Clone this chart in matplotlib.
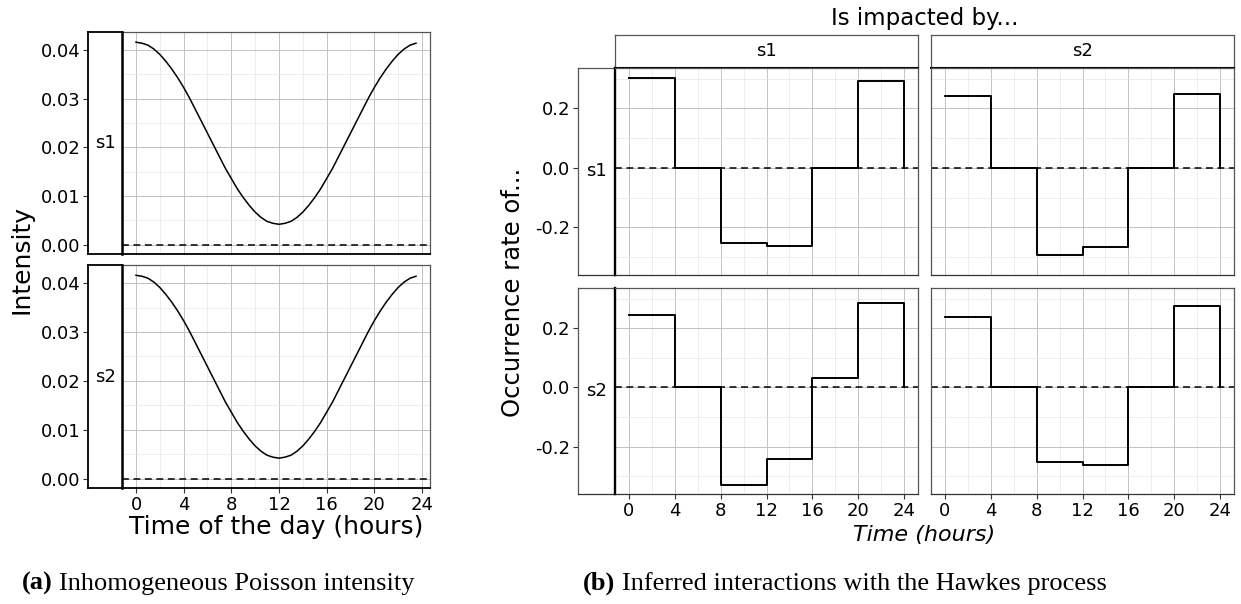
"""Inhomogeneous Poisson intensity and inferred Hawkes interactions."""

import matplotlib

matplotlib.use("Agg")
import matplotlib.pyplot as plt

W, H = 1241, 604

# (a) intensity, read every half hour
hours = [
    0.0, 0.5, 1.0, 1.5, 2.0, 2.5, 3.0, 3.5, 4.0, 4.5, 5.0, 5.5,
    6.0, 6.5, 7.0, 7.5, 8.0, 8.5, 9.0, 9.5, 10.0, 10.5, 11.0, 11.5,
    12.0, 12.5, 13.0, 13.5, 14.0, 14.5, 15.0, 15.5, 16.0, 16.5, 17.0, 17.5,
    18.0, 18.5, 19.0, 19.5, 20.0, 20.5, 21.0, 21.5, 22.0, 22.5, 23.0, 23.5,
]
intensity_s1 = [
    0.0416, 0.0414, 0.0410, 0.0402, 0.0391, 0.0377, 0.0361, 0.0343,
    0.0323, 0.0301, 0.0277, 0.0253, 0.0229, 0.0205, 0.0181, 0.0157,
    0.0136, 0.0115, 0.0097, 0.0081, 0.0067, 0.0056, 0.0048, 0.0044,
    0.0042, 0.0044, 0.0048, 0.0056, 0.0067, 0.0081, 0.0097, 0.0115,
    0.0136, 0.0157, 0.0181, 0.0205, 0.0229, 0.0253, 0.0277, 0.0301,
    0.0323, 0.0343, 0.0361, 0.0377, 0.0391, 0.0402, 0.0410, 0.0414,
]
intensity_s2 = [
    0.0416, 0.0414, 0.0410, 0.0402, 0.0391, 0.0377, 0.0361, 0.0343,
    0.0323, 0.0301, 0.0277, 0.0253, 0.0229, 0.0205, 0.0181, 0.0157,
    0.0136, 0.0115, 0.0097, 0.0081, 0.0067, 0.0056, 0.0048, 0.0044,
    0.0042, 0.0044, 0.0048, 0.0056, 0.0067, 0.0081, 0.0097, 0.0115,
    0.0136, 0.0157, 0.0181, 0.0205, 0.0229, 0.0253, 0.0277, 0.0301,
    0.0323, 0.0343, 0.0361, 0.0377, 0.0391, 0.0402, 0.0410, 0.0414,
]
intensity_ticks = [0.0, 0.01, 0.02, 0.03, 0.04]
intensity_labels = ["0.00", "0.01", "0.02", "0.03", "0.04"]

# (b) piecewise constant effects on 4-hour bins (last value closes the step)
step_hours = [0, 4, 8, 12, 16, 20, 24]
rate_s1_by_s1 = [0.303, 0.0, -0.253, -0.263, 0.0, 0.292, 0.0]
rate_s1_by_s2 = [0.243, 0.0, -0.294, -0.265, 0.0, 0.248, 0.0]
rate_s2_by_s1 = [0.245, 0.0, -0.328, -0.242, 0.031, 0.286, 0.0]
rate_s2_by_s2 = [0.237, 0.0, -0.253, -0.261, 0.0, 0.274, 0.0]
rate_ticks = [-0.2, 0.0, 0.2]
rate_labels = ["-0.2", "0.0", "0.2"]

hour_ticks = [0, 4, 8, 12, 16, 20, 24]
hour_minor = [2, 6, 10, 14, 18, 22]
sources = ["s1", "s2"]

BORDER = "#555555"
DASH = (0, (4.5, 3))


def rect(x0, y0, x1, y1):
    return [x0 / W, 1 - y1 / H, (x1 - x0) / W, (y1 - y0) / H]


def style_panel(ax, xlim, ylim, yticks, yminor):
    ax.set_xlim(*xlim)
    ax.set_ylim(*ylim)
    ax.set_xticks(hour_ticks)
    ax.set_xticks(hour_minor, minor=True)
    ax.set_yticks(yticks)
    ax.set_yticks(yminor, minor=True)
    ax.grid(which="major", color="#c2c2c2", linewidth=0.7)
    ax.grid(which="minor", color="#e6e6e6", linewidth=0.5)
    ax.set_axisbelow(True)
    ax.tick_params(which="both", length=0, labelleft=False, labelbottom=False)
    for s in ax.spines.values():
        s.set_color(BORDER)
        s.set_linewidth(0.9)


def show_hours(ax):
    ax.tick_params(axis="x", which="major", length=3.5, color="#333333",
                   labelbottom=True, labelsize=13, pad=2)


def make_strip(fig, box, label, color="black", lw=1.3):
    st = fig.add_axes(box)
    st.set_xticks([])
    st.set_yticks([])
    for s in st.spines.values():
        s.set_color(color)
        s.set_linewidth(lw)
    st.text(0.5, 0.5, label, transform=st.transAxes, ha="center",
            va="center", fontsize=13)
    return st


plt.rcParams["font.family"] = "DejaVu Sans"
plt.rcParams["axes.unicode_minus"] = False

fig = plt.figure(figsize=(W / 100, H / 100), dpi=100)

# ---- (a) ----
a_ylim = (-0.0019, 0.0437)
a_rows = [(32, 254), (265, 488)]
for i, (name, vals) in enumerate(zip(sources, [intensity_s1, intensity_s2])):
    y0, y1 = a_rows[i]
    ax = fig.add_axes(rect(122, y0, 430, y1))
    style_panel(ax, (-1.175, 24.675), a_ylim, intensity_ticks,
                [0.005, 0.015, 0.025, 0.035])
    ax.spines["bottom"].set_color("black")
    ax.spines["bottom"].set_linewidth(1.3)
    ax.axhline(0, color="black", linestyle=DASH, linewidth=1.1)
    ax.plot(hours, vals, color="black", linewidth=1.1)
    if i == 1:
        show_hours(ax)
    st = make_strip(fig, rect(88, y0, 122, y1), name)
    st.spines["right"].set_linewidth(1.8)
    st.set_ylim(*a_ylim)
    st.set_yticks(intensity_ticks, intensity_labels)
    st.tick_params(axis="y", length=3.5, color="#333333", labelsize=13, pad=2)

fig.text(22 / W, 1 - 260 / H, "Intensity", rotation=90, ha="center",
         va="center", fontsize=18)
fig.text(276 / W, 1 - 527 / H, "Time of the day (hours)", ha="center",
         va="center", fontsize=18)

# ---- (b) ----
b_ylim = (-0.360, 0.336)
b_rows = [(68, 275), (288, 494)]
b_cols = [(615, 918), (931, 1234)]
grid_vals = [[rate_s1_by_s1, rate_s1_by_s2], [rate_s2_by_s1, rate_s2_by_s2]]
for c, (cx0, cx1) in enumerate(b_cols):
    hd = make_strip(fig, rect(cx0, 35, cx1, 68), sources[c], color=BORDER,
                    lw=0.9)
    hd.spines["bottom"].set_color("black")
    hd.spines["bottom"].set_linewidth(1.5)
for r, (ry0, ry1) in enumerate(b_rows):
    st = make_strip(fig, rect(578, ry0, 615, ry1), sources[r], color=BORDER,
                    lw=0.9)
    st.spines["bottom"].set_color("#333333")
    st.set_ylim(*b_ylim)
    st.set_yticks(rate_ticks, rate_labels)
    st.tick_params(axis="y", length=3.5, color="#333333", labelsize=13, pad=2)
    for c, (cx0, cx1) in enumerate(b_cols):
        ax = fig.add_axes(rect(cx0, ry0, cx1, ry1))
        style_panel(ax, (-1.2, 25.2), b_ylim, rate_ticks,
                    [-0.3, -0.1, 0.1, 0.3])
        ax.spines["bottom"].set_color("#333333")
        if c == 0:
            ax.spines["left"].set_color("black")
            ax.spines["left"].set_linewidth(1.7)
        ax.axhline(0, color="black", linestyle=DASH, linewidth=1.1)
        ax.step(step_hours, grid_vals[r][c], where="post", color="black",
                linewidth=1.4)
        if r == 1:
            show_hours(ax)

fig.text(924.5 / W, 1 - 18 / H, "Is impacted by...", ha="center",
         va="center", fontsize=16.5)
fig.text(513 / W, 1 - 292 / H, "Occurrence rate of...", rotation=90,
         ha="center", va="center", fontsize=17.5)
fig.text(924.5 / W, 1 - 535 / H, "Time (hours)", ha="center", va="center",
         fontsize=16, style="italic")

# captions
serif = "Liberation Serif"
ta = fig.text(21.7 / W, 1 - 590 / H, "(a)", fontsize=19, fontweight="bold",
              family=serif, va="baseline")
fig.axes[0].annotate("Inhomogeneous Poisson intensity", xy=(1, 0),
                     xycoords=ta, xytext=(5, 0), textcoords="offset points",
                     fontsize=19, family=serif, va="bottom",
                     annotation_clip=False)
tb = fig.text(583 / W, 1 - 590 / H, "(b)", fontsize=19, fontweight="bold",
              family=serif, va="baseline")
fig.axes[0].annotate("Inferred interactions with the Hawkes process",
                     xy=(1, 0), xycoords=tb, xytext=(5, 0),
                     textcoords="offset points", fontsize=19, family=serif,
                     va="bottom", annotation_clip=False)

fig.savefig("out.png", dpi=100)
plt.close(fig)
